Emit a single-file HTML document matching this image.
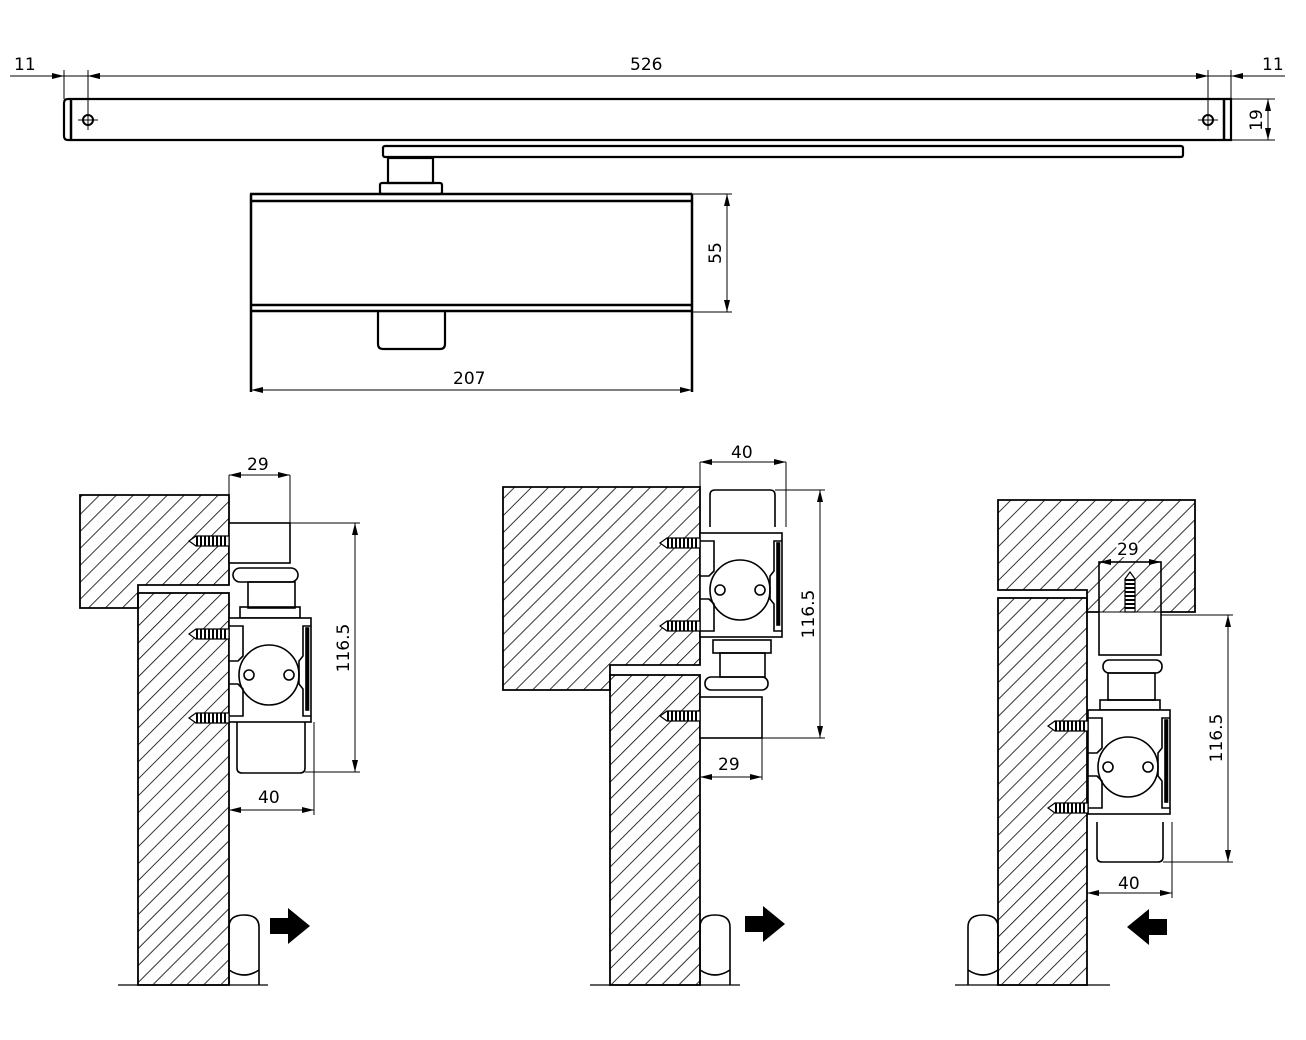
<!DOCTYPE html>
<html><head><meta charset="utf-8"><style>
html,body{margin:0;padding:0;background:#fff;}
svg{display:block;}
text{font-family:"DejaVu Sans","Liberation Sans",sans-serif;font-size:17px;fill:#000;}
</style></head><body>
<svg width="1306" height="1040" viewBox="0 0 1306 1040" xmlns="http://www.w3.org/2000/svg">
<defs>
<pattern id="h" width="12" height="12" patternUnits="userSpaceOnUse" patternTransform="rotate(45)">
<line x1="0" y1="0" x2="0" y2="12" stroke="#000" stroke-width="1.6"/>
</pattern>
<marker id="a" viewBox="0 0 12 6" refX="12" refY="3" markerWidth="12" markerHeight="6" orient="auto-start-reverse" markerUnits="userSpaceOnUse">
<path d="M0,0 L12,3 L0,6 z" fill="#000"/>
</marker>
<g id="screw">
<path d="M-40,0 L-33,-5 H0 V5 H-33 Z" fill="#fff" stroke="#000" stroke-width="1.2"/>
<line x1="-33" y1="0" x2="-2" y2="0" stroke="#000" stroke-width="10" stroke-dasharray="2 2"/>
</g>
<g id="body" fill="none" stroke="#000" stroke-width="1.6">
<rect x="0" y="0" width="82" height="104" fill="#fff"/>
<path d="M0,8 H14 V38 L9,43 H0 M0,66 H9 L14,71 V98 H0"/>
<path d="M82,8 H74 V38 L70,43 V66 L74,71 V98 H82"/>
<rect x="77" y="10" width="2.5" height="82" fill="#000"/>
<circle cx="40" cy="57" r="30"/>
<circle cx="20" cy="57" r="5"/>
<circle cx="60" cy="57" r="5"/>
</g>
<g id="hinge" fill="none" stroke="#000" stroke-width="1.6">
<path d="M0,70 V12 Q0,0 15,0 Q30,0 30,12 V70"/>
<path d="M0,55 Q15,65 30,55"/>
</g>
</defs>

<!-- TOP VIEW -->
<g stroke="#000" fill="none">
<line x1="10" y1="76" x2="1285" y2="76" stroke-width="1"/>
<line x1="64" y1="70" x2="64" y2="99" stroke-width="1"/>
<line x1="88" y1="70" x2="88" y2="130" stroke-width="1"/>
<line x1="1208" y1="70" x2="1208" y2="130" stroke-width="1"/>
<line x1="1231" y1="70" x2="1231" y2="99" stroke-width="1"/>
<line x1="50" y1="76" x2="64" y2="76" marker-end="url(#a)"/>
<line x1="102" y1="76" x2="88" y2="76" marker-end="url(#a)"/>
<line x1="1194" y1="76" x2="1208" y2="76" marker-end="url(#a)"/>
<line x1="1245" y1="76" x2="1231" y2="76" marker-end="url(#a)"/>
<line x1="88" y1="76" x2="1208" y2="76" marker-start="url(#a)" marker-end="url(#a)" stroke-width="1"/>
<path d="M68,99 H1231 V140 H68 Q64,140 64,136 V103 Q64,99 68,99 Z" stroke-width="2.2"/>
<line x1="71" y1="99" x2="71" y2="140" stroke-width="2.5"/>
<line x1="1224" y1="99" x2="1224" y2="140" stroke-width="2.5"/>
<circle cx="88" cy="120" r="5" stroke-width="2"/>
<circle cx="1208" cy="120" r="5" stroke-width="2"/>
<line x1="78" y1="120" x2="98" y2="120"/><line x1="88" y1="110" x2="88" y2="130"/>
<line x1="1198" y1="120" x2="1218" y2="120"/>
<line x1="1231" y1="99" x2="1275" y2="99"/>
<line x1="1231" y1="140" x2="1275" y2="140"/>
<line x1="1268" y1="99" x2="1268" y2="140" marker-start="url(#a)" marker-end="url(#a)"/>
<rect x="383" y="146" width="800" height="11" rx="2" stroke-width="2.2"/>
<rect x="388" y="158" width="45" height="25" stroke-width="2.2"/>
<rect x="380" y="183" width="62" height="11" rx="2" stroke-width="2.2"/>
<line x1="250" y1="194" x2="692" y2="194" stroke-width="2.5"/>
<line x1="250" y1="201" x2="692" y2="201" stroke-width="2.5"/>
<line x1="250" y1="305" x2="692" y2="305" stroke-width="2.5"/>
<line x1="250" y1="311" x2="692" y2="311" stroke-width="2.5"/>
<line x1="251" y1="194" x2="251" y2="392" stroke-width="2.5"/>
<line x1="692" y1="194" x2="692" y2="392" stroke-width="2.5"/>
<path d="M378,311 V344 Q378,349 383,349 H440 Q445,349 445,344 V311" stroke-width="2.2"/>
<line x1="692" y1="194" x2="732" y2="194"/>
<line x1="692" y1="312" x2="732" y2="312"/>
<line x1="727" y1="194" x2="727" y2="312" marker-start="url(#a)" marker-end="url(#a)"/>
<line x1="251" y1="390" x2="692" y2="390" marker-start="url(#a)" marker-end="url(#a)"/>
</g>
<text x="14" y="70">11</text>
<text x="630" y="70">526</text>
<text x="1262" y="70">11</text>
<text transform="translate(1262,120) rotate(-90)" text-anchor="middle" y="0">19</text>
<text transform="translate(721,253) rotate(-90)" text-anchor="middle">55</text>
<text x="453" y="384">207</text>

<!-- LEFT -->
<g stroke="#000" stroke-width="1.8">
<path d="M80,495 H229 V585 H138 V608 H80 Z" fill="url(#h)"/>
<rect x="138" y="593" width="91" height="392" fill="url(#h)"/>
<line x1="118" y1="985" x2="268" y2="985" stroke-width="1.2"/>
</g>
<g fill="none" stroke="#000" stroke-width="1.6">
<rect x="229" y="523" width="61" height="40" fill="#fff"/>
<rect x="233" y="568" width="65" height="14" rx="7"/>
<rect x="248" y="582" width="47" height="26"/>
<rect x="240" y="607" width="60" height="11"/>
<path d="M237,722 V768 Q237,773 242,773 H300 Q305,773 305,768 V722"/>
<line x1="229" y1="475" x2="229" y2="523" stroke-width="1"/>
<line x1="290" y1="475" x2="290" y2="523" stroke-width="1"/>
<line x1="229" y1="475" x2="290" y2="475" stroke-width="1" marker-start="url(#a)" marker-end="url(#a)"/>
<line x1="290" y1="523" x2="360" y2="523" stroke-width="1"/>
<line x1="305" y1="772" x2="360" y2="772" stroke-width="1"/>
<line x1="355" y1="523" x2="355" y2="772" stroke-width="1" marker-start="url(#a)" marker-end="url(#a)"/>
<line x1="314" y1="722" x2="314" y2="815" stroke-width="1"/>
<line x1="229" y1="810" x2="314" y2="810" stroke-width="1" marker-start="url(#a)" marker-end="url(#a)"/>
</g>
<use href="#body" x="229" y="618"/>
<use href="#screw" x="229" y="541"/>
<use href="#screw" x="229" y="634"/>
<use href="#screw" x="229" y="718"/>
<use href="#hinge" x="229" y="915"/>
<path d="M270,918 H288 V908 L310,926 L288,944 V934 H270 Z" fill="#000"/>
<text x="247" y="470">29</text>
<text transform="translate(349,648) rotate(-90)" text-anchor="middle">116.5</text>
<text x="258" y="803">40</text>

<!-- MIDDLE -->
<g stroke="#000" stroke-width="1.8">
<path d="M503,487 H700 V665 H610 V690 H503 Z" fill="url(#h)"/>
<rect x="610" y="675" width="90" height="310" fill="url(#h)"/>
<line x1="590" y1="985" x2="740" y2="985" stroke-width="1.2"/>
</g>
<g fill="none" stroke="#000" stroke-width="1.6">
<path d="M710,527 V495 Q710,490 715,490 H770 Q775,490 775,495 V527"/>
<rect x="713" y="640" width="58" height="13"/>
<rect x="720" y="653" width="45" height="24"/>
<rect x="705" y="677" width="63" height="13" rx="6"/>
<rect x="700" y="697" width="62" height="41" fill="#fff"/>
<line x1="700" y1="462" x2="700" y2="527" stroke-width="1"/>
<line x1="786" y1="462" x2="786" y2="527" stroke-width="1"/>
<line x1="700" y1="462" x2="786" y2="462" stroke-width="1" marker-start="url(#a)" marker-end="url(#a)"/>
<line x1="775" y1="490" x2="825" y2="490" stroke-width="1"/>
<line x1="762" y1="738" x2="825" y2="738" stroke-width="1"/>
<line x1="820" y1="490" x2="820" y2="738" stroke-width="1" marker-start="url(#a)" marker-end="url(#a)"/>
<line x1="762" y1="738" x2="762" y2="780" stroke-width="1"/>
<line x1="700" y1="777" x2="762" y2="777" stroke-width="1" marker-start="url(#a)" marker-end="url(#a)"/>
</g>
<use href="#body" x="700" y="533"/>
<use href="#screw" x="700" y="543"/>
<use href="#screw" x="700" y="626"/>
<use href="#screw" x="700" y="716"/>
<use href="#hinge" x="700" y="915"/>
<path d="M745,916 H763 V906 L785,924 L763,942 V932 H745 Z" fill="#000"/>
<text x="731" y="458">40</text>
<text transform="translate(814,614) rotate(-90)" text-anchor="middle">116.5</text>
<text x="718" y="770">29</text>

<!-- RIGHT -->
<g stroke="#000" stroke-width="1.8">
<path d="M998,500 H1195 V612 H1087 V590 H998 Z" fill="url(#h)"/>
<rect x="998" y="598" width="89" height="387" fill="url(#h)"/>
<line x1="955" y1="985" x2="1110" y2="985" stroke-width="1.2"/>
</g>
<g fill="none" stroke="#000" stroke-width="1.6">
<rect x="1099" y="562" width="62" height="93" fill="#fff"/>
<path d="M1099,562 H1161 V612 H1099 Z" fill="url(#h)" stroke-width="1"/>
<rect x="1103" y="660" width="59" height="13" rx="6"/>
<rect x="1108" y="673" width="47" height="27"/>
<rect x="1100" y="700" width="60" height="10"/>
<path d="M1097,822 V857 Q1097,862 1102,862 H1158 Q1163,862 1163,857 V822"/>
<line x1="1161" y1="615" x2="1233" y2="615" stroke-width="1"/>
<line x1="1163" y1="862" x2="1233" y2="862" stroke-width="1"/>
<line x1="1228" y1="615" x2="1228" y2="862" stroke-width="1" marker-start="url(#a)" marker-end="url(#a)"/>
<line x1="1099" y1="562" x2="1161" y2="562" stroke-width="1" marker-start="url(#a)" marker-end="url(#a)"/>
<line x1="1172" y1="822" x2="1172" y2="898" stroke-width="1"/>
<line x1="1087" y1="893" x2="1172" y2="893" stroke-width="1" marker-start="url(#a)" marker-end="url(#a)"/>
</g>
<g transform="translate(1130,612) rotate(90)"><use href="#screw"/></g>
<use href="#body" x="1088" y="710"/>
<use href="#screw" x="1088" y="726"/>
<use href="#screw" x="1088" y="808"/>
<use href="#hinge" x="968" y="915"/>
<path d="M1167,919 H1149 V909 L1127,927 L1149,945 V935 H1167 Z" fill="#000"/>
<text x="1117" y="555" style="paint-order:stroke" stroke="#fff" stroke-width="4">29</text>
<text transform="translate(1222,738) rotate(-90)" text-anchor="middle">116.5</text>
<text x="1118" y="889">40</text>
</svg>
</body></html>
